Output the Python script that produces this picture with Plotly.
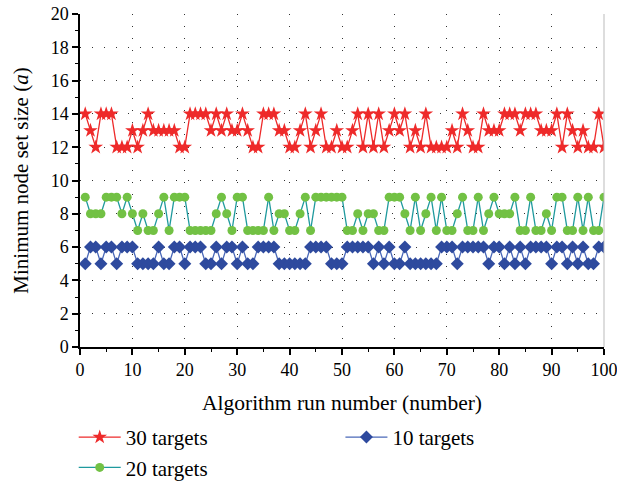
import plotly.graph_objects as go

runs = list(range(1, 101))

targets30 = [14, 13, 12, 14, 14, 14, 12, 12, 12, 13, 12, 13, 14, 13, 13, 13, 13, 13, 12, 12,
             14, 14, 14, 14, 13, 14, 13, 14, 13, 13, 14, 13, 12, 12, 14, 14, 14, 13, 13, 12,
             12, 13, 14, 12, 13, 14, 12, 12, 13, 12, 12, 13, 14, 12, 14, 12, 14, 12, 13, 14,
             13, 14, 12, 13, 12, 14, 12, 12, 12, 12, 13, 12, 14, 13, 12, 12, 14, 13, 13, 13,
             14, 14, 14, 13, 14, 14, 14, 13, 13, 13, 14, 12, 14, 13, 12, 13, 12, 12, 14, 12]

targets20 = [9, 8, 8, 8, 9, 9, 9, 8, 9, 8, 7, 8, 7, 7, 8, 9, 7, 9, 9, 9,
             7, 7, 7, 7, 7, 8, 9, 8, 7, 9, 9, 7, 7, 7, 7, 9, 7, 8, 8, 7,
             7, 8, 9, 7, 9, 9, 9, 9, 9, 9, 7, 7, 8, 7, 8, 8, 7, 7, 9, 9,
             9, 8, 7, 9, 7, 8, 9, 7, 9, 7, 7, 8, 9, 7, 7, 9, 7, 8, 9, 8,
             8, 8, 9, 7, 7, 9, 7, 7, 8, 7, 9, 9, 7, 7, 9, 7, 9, 7, 7, 9]

targets10 = [5, 6, 6, 5, 6, 6, 5, 6, 6, 6, 5, 5, 5, 5, 6, 5, 5, 6, 6, 5,
             6, 6, 6, 5, 5, 6, 5, 6, 6, 5, 6, 5, 5, 6, 6, 6, 6, 5, 5, 5,
             5, 5, 5, 6, 6, 6, 6, 5, 5, 5, 6, 6, 6, 6, 6, 5, 6, 5, 6, 5,
             5, 6, 5, 5, 5, 5, 5, 5, 6, 6, 6, 5, 6, 6, 6, 6, 6, 5, 6, 6,
             5, 6, 5, 6, 5, 6, 6, 6, 6, 5, 6, 6, 5, 6, 5, 6, 5, 5, 6, 6]

x_ticks = list(range(0, 101, 10))
y_ticks = list(range(0, 21, 2))

FONT = "Liberation Serif"

fig = go.Figure()
fig.add_trace(go.Scatter(
    x=runs, y=targets30, name="30 targets", mode="lines+markers",
    line=dict(color="#EE2A2A", width=1.3),
    marker=dict(symbol="star", size=11, color="#EE2A2A"),
    legend="legend",
))
fig.add_trace(go.Scatter(
    x=runs, y=targets20, name="20 targets", mode="lines+markers",
    line=dict(color="#1F9A9E", width=1.3),
    marker=dict(symbol="circle", size=9, color="#72C144"),
    legend="legend",
))
fig.add_trace(go.Scatter(
    x=runs, y=targets10, name="10 targets", mode="lines+markers",
    line=dict(color="#4A68B8", width=1.3),
    marker=dict(symbol="diamond", size=10, color="#2E4A9E"),
    legend="legend2",
))

legend_common = dict(
    orientation="v", xanchor="left", yanchor="top",
    font=dict(family=FONT, size=21), itemwidth=42,
    tracegroupgap=0, bgcolor="rgba(0,0,0,0)", traceorder="normal",
)

fig.update_layout(
    width=617, height=483,
    margin=dict(l=80, r=13, t=14, b=136, autoexpand=False),
    paper_bgcolor="white", plot_bgcolor="white",
    font=dict(family=FONT, size=18, color="black"),
    showlegend=True,
    legend=dict(x=-0.012, y=-0.21, **legend_common),
    legend2=dict(x=0.497, y=-0.21, **legend_common),
    xaxis=dict(
        range=[0, 100], tickvals=x_ticks, ticktext=[str(v) for v in x_ticks],
        showline=True, linecolor="black", linewidth=1.5,
        ticks="outside", ticklen=6, tickwidth=1.5, tickcolor="black",
        minor=dict(dtick=5, ticks="outside", ticklen=3, tickwidth=1.2, tickcolor="black", showgrid=False),
        showgrid=True, gridcolor="#333333", gridwidth=1, griddash="1px,11px",
        zeroline=False, ticklabeloverflow="allow",
        title=dict(text="Algorithm run number (number)", font=dict(family=FONT, size=21.5), standoff=16),
        tickfont=dict(family=FONT, size=18),
    ),
    yaxis=dict(
        range=[0, 20], tickvals=y_ticks, ticktext=[str(v) for v in y_ticks],
        showline=True, linecolor="black", linewidth=1.5,
        ticks="outside", ticklen=6, tickwidth=1.5, tickcolor="black",
        minor=dict(dtick=1, ticks="outside", ticklen=3, tickwidth=1.2, tickcolor="black", showgrid=False),
        showgrid=True, gridcolor="#333333", gridwidth=1, griddash="1px,11px",
        zeroline=False, ticklabeloverflow="allow",
        title=dict(text="Minimum node set size (<i>a</i>)", font=dict(family=FONT, size=21), standoff=16),
        tickfont=dict(family=FONT, size=18),
    ),
)

fig.add_shape(type="line", xref="paper", yref="paper", x0=1, x1=1, y0=0, y1=1,
              line=dict(color="#BBBBBB", width=1))

fig.write_html("out.html", config={"displayModeBar": False},
               post_script="document.body.style.margin='0';")
